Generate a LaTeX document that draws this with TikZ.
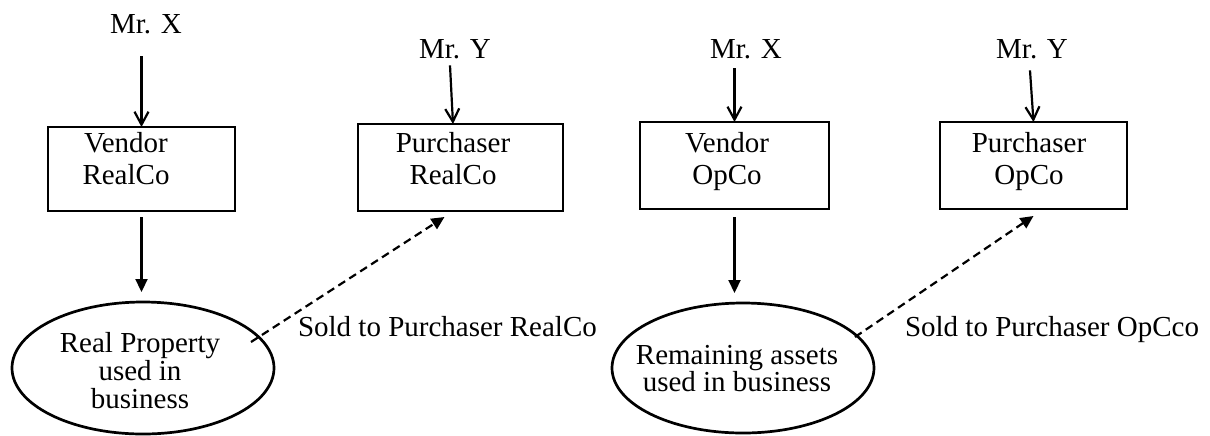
\documentclass[tikz,border=0pt]{standalone}
\usepackage{fontspec}
\setmainfont{Liberation Serif}
\usetikzlibrary{arrows.meta,calc,shapes.geometric}
\begin{document}
\begin{tikzpicture}[x=0.5pt,y=-0.5pt,
  every node/.style={inner sep=0pt,outer sep=0pt},
  lbl/.style={font=\fontsize{14.5}{15.5}\selectfont},
  boxtext/.style={align=center,anchor=north,font=\fontsize{14.5}{16.25}\selectfont},
  box/.style={draw,line width=1.15pt},
  oval/.style={draw,ellipse,line width=1.35pt},
  owner/.style={line width=1.1pt,-{Straight Barb[length=6.5pt,width=7pt,line width=1.1pt]}},
  flow/.style={line width=1.1pt,-{Triangle[length=6.5pt,width=6pt]}},
  sale/.style={line width=1.1pt,dash pattern=on 4pt off 2.5pt,-{Triangle[length=6.5pt,width=6pt]}}]

% canvas
\fill[white] (0,0) rectangle (1210,435);
\useasboundingbox (0,0) rectangle (1210,435);

% shareholders
\node[lbl,anchor=base] (mx1) at (146,33) {Mr. X};
\node[lbl,anchor=base] (my1) at (455,58) {Mr. Y};
\node[lbl,anchor=base] (mx2) at (746,58) {Mr. X};
\node[lbl,anchor=base] (my2) at (1032,58) {Mr. Y};

% companies
\node[box,minimum width=93.5pt,minimum height=42pt] (vr) at (141.5,169) {};
\node[box,minimum width=102.5pt,minimum height=43.5pt] (pr) at (460.5,167.5) {};
\node[box,minimum width=94.5pt,minimum height=43.5pt] (vo) at (734.5,165.5) {};
\node[box,minimum width=93.5pt,minimum height=43.5pt] (po) at (1033.5,165.5) {};

\node[boxtext] (vrt) at (126,132) {Vendor\\RealCo};
\node[boxtext] (prt) at (453,132) {Purchaser\\RealCo};
\node[boxtext] (vot) at (727,132) {Vendor\\OpCo};
\node[boxtext] (pot) at (1029,132) {Purchaser\\OpCo};

% assets
\node[oval,minimum width=131pt,minimum height=66pt] (e1) at (143,368) {};
\node[oval,minimum width=131pt,minimum height=65pt] (e2) at (743,368) {};
\node[align=center,anchor=north,font=\fontsize{14.5}{14}\selectfont] (e1t) at (140,332)
  {Real Property\\used in\\business};
\node[align=center,anchor=north,font=\fontsize{14.5}{13.5}\selectfont] (e2t) at (737,345)
  {Remaining assets\\used in business};

% sale labels
\node[lbl,anchor=base west] (s1) at (298,336) {Sold to Purchaser RealCo};
\node[lbl,anchor=base west] (s2) at (905,336) {Sold to Purchaser OpCco};

% ownership
\draw[owner,shorten <=11.5pt] (vr.north |- mx1.south) -- (vr.north);
\draw[owner] ($(my1.south)+(-5,7)$) -- ($(pr.north)+(-7.5,0)$);
\draw[owner,shorten <=5pt] (vo.north |- mx2.south) -- (vo.north);
\draw[owner] ($(my2.south)+(-2,12)$) -- (po.north);

% assets held
\draw[flow,shorten <=3pt,shorten >=5pt] (vr.south) -- (vr.south |- e1.north);
\draw[flow,shorten <=4pt,shorten >=5pt] (vo.south) -- (vo.south |- e2.north);

% sales
\draw[sale] ($(e1.center)+(108,-26)$) -- ($(pr.south)+(-16,6)$);
\draw[sale] ($(e2.center)+(112,-31)$) -- ($(po.south)+(0,7)$);
\end{tikzpicture}
\end{document}
